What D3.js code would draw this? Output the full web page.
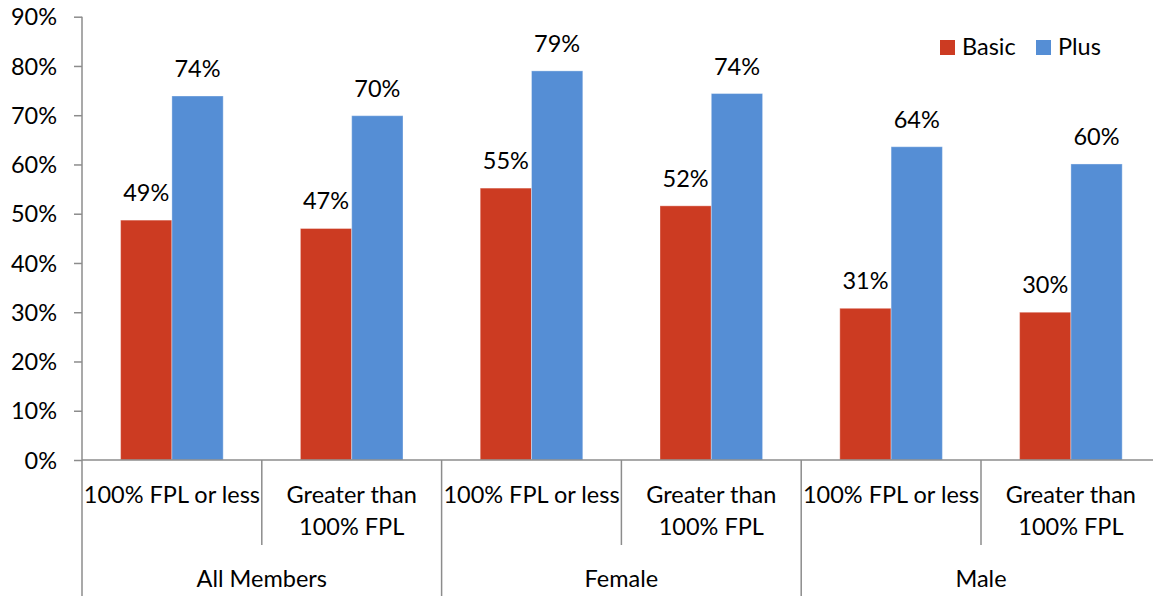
<!DOCTYPE html>
<html>
<head>
<meta charset="utf-8">
<script src="https://cdn.jsdelivr.net/npm/d3@7"></script>
<style>
  html, body { margin: 0; padding: 0; background: #fff; }
  svg { display: block; }
  text { font-family: Lato, "Open Sans", sans-serif; fill: #000; }
</style>
</head>
<body>
<svg id="chart" width="1153" height="596"></svg>
<script>
// Income groups within each member segment
const groups = ["All Members", "Female", "Male"];
const subcategories = [
  ["100% FPL or less"], ["Greater than", "100% FPL"],
  ["100% FPL or less"], ["Greater than", "100% FPL"],
  ["100% FPL or less"], ["Greater than", "100% FPL"]
];
const seriesNames = ["Basic", "Plus"];
const basicValues = [48.7, 47.0, 55.2, 51.6, 30.8, 30.0];
const plusValues  = [73.9, 69.9, 79.0, 74.4, 63.6, 60.1];
const yTicks = [0, 10, 20, 30, 40, 50, 60, 70, 80, 90];
const colors = { Basic: "#CC3B22", Plus: "#558ED5" };

const svg = d3.select("#chart");
const fontSize = 23.5;
const axisColor = "#8C8C8C";

const left = 82, right = 1160.8, y0 = 460, yTop = 16.7;

const y = d3.scaleLinear().domain([0, 90]).range([y0, yTop]);
const x0 = d3.scaleBand().domain(d3.range(subcategories.length)).range([left, right]).padding(0);
const bw = x0.bandwidth();
const x1 = d3.scaleBand().domain(seriesNames).range([bw * 0.2147, bw * 0.7853]).padding(0);

const rows = subcategories.map((s, i) => ({ i, Basic: basicValues[i], Plus: plusValues[i] }));

// Bars with value labels
const g = svg.append("g");
rows.forEach(r => {
  seriesNames.forEach(name => {
    g.append("rect")
      .attr("x", x0(r.i) + x1(name))
      .attr("y", y(r[name]))
      .attr("width", x1.bandwidth())
      .attr("height", y0 - y(r[name]))
      .attr("fill", colors[name])
      .attr("stroke", "#ffffff")
      .attr("stroke-opacity", 0.35)
      .attr("stroke-width", 1);
    g.append("text")
      .attr("x", x0(r.i) + x1(name) + x1.bandwidth() / 2)
      .attr("y", y(r[name]) - 19)
      .attr("text-anchor", "middle")
      .attr("font-size", fontSize)
      .text(d3.format(".0f")(r[name]) + "%");
  });
});

// Y axis
const yAxis = d3.axisLeft(y).tickValues(yTicks).tickSize(8).tickPadding(17)
  .tickFormat(d => d + "%");
const ya = svg.append("g").attr("transform", `translate(${left},0)`).call(yAxis);
ya.select(".domain").remove();
ya.selectAll(".tick line").attr("stroke", axisColor).attr("stroke-width", 1.5);
ya.selectAll(".tick text").attr("font-size", fontSize).attr("font-family", "Lato, sans-serif")
  .attr("fill", "#000").attr("dy", "0.35em");

// Axis lines
svg.append("line").attr("x1", left).attr("x2", left).attr("y1", yTop).attr("y2", 596)
  .attr("stroke", axisColor).attr("stroke-width", 1.5);
svg.append("line").attr("x1", left).attr("x2", 1153).attr("y1", y0).attr("y2", y0)
  .attr("stroke", axisColor).attr("stroke-width", 1.5);

// Category dividers: sub-level short, group-level full height
d3.range(1, subcategories.length + 1).forEach(i => {
  const xx = i < subcategories.length ? x0(i) : right;
  const isGroup = i % 2 === 0;
  svg.append("line").attr("x1", xx).attr("x2", xx)
    .attr("y1", y0).attr("y2", isGroup ? 596 : 545)
    .attr("stroke", axisColor).attr("stroke-width", 1.5);
});

// Sub-category labels
subcategories.forEach((lines, i) => {
  const t = svg.append("text")
    .attr("x", x0(i) + bw / 2)
    .attr("y", 503)
    .attr("text-anchor", "middle")
    .attr("font-size", fontSize);
  lines.forEach((ln, k) => {
    t.append("tspan").attr("x", x0(i) + bw / 2).attr("y", 503 + k * 32).text(ln);
  });
});

// Group labels
groups.forEach((name, gi) => {
  svg.append("text")
    .attr("x", x0(gi * 2) + bw)
    .attr("y", 587)
    .attr("text-anchor", "middle")
    .attr("font-size", fontSize)
    .text(name);
});

// Legend
const legend = svg.append("g");
const legendX = [940, 1036];
seriesNames.forEach((name, k) => {
  legend.append("rect").attr("x", legendX[k]).attr("y", 40).attr("width", 15).attr("height", 15)
    .attr("fill", colors[name]);
  legend.append("text").attr("x", legendX[k] + 22).attr("y", 55)
    .attr("font-size", fontSize).text(name);
});
</script>
</body>
</html>
